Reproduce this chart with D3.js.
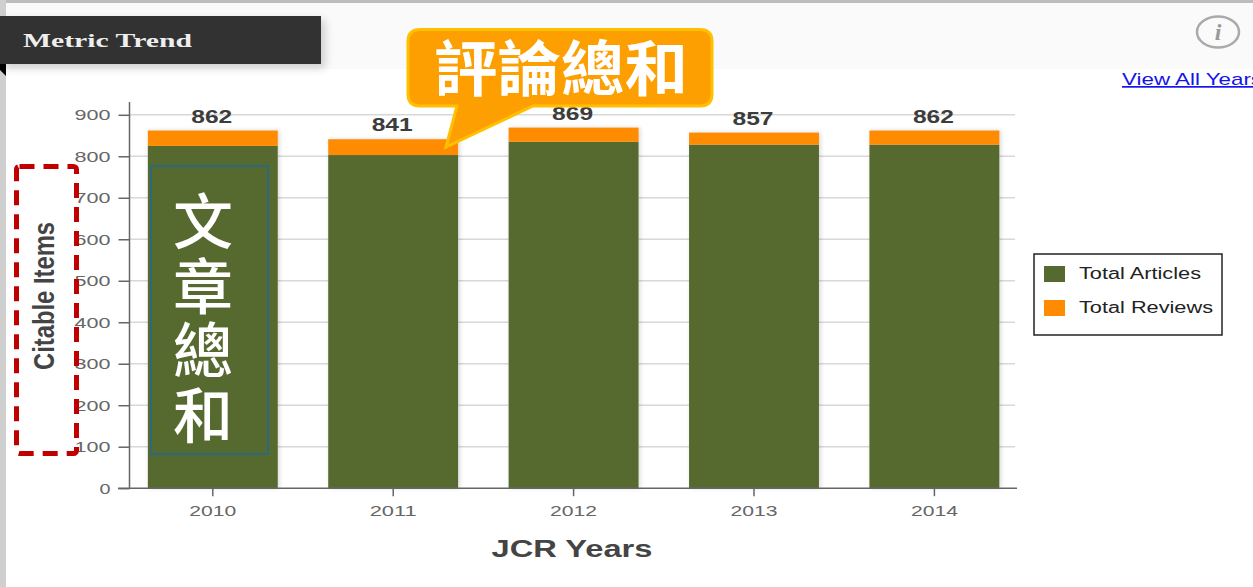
<!DOCTYPE html>
<html><head><meta charset="utf-8">
<script src="https://cdn.jsdelivr.net/npm/d3@7/dist/d3.min.js"></script>
<style>html,body{margin:0;padding:0;background:#fff;overflow:hidden}svg{display:block}</style>
</head><body><svg id="c" width="1253" height="587"></svg>
<script>
const years = ["2010","2011","2012","2013","2014"];
const articles = [825,803,835,828,828];
const reviews = [37,38,34,29,34];
const totals = [862,841,869,857,862];
const yTicks = [0,100,200,300,400,500,600,700,800,900];
const legendLabels = ["Total Articles","Total Reviews"];
const colors = ["#566a30","#ff8c00"];
const sideChars = ["文","章","總","和"];

const svg = d3.select("#c");
const defs = svg.append("defs");
const f1 = defs.append("filter").attr("id","sh").attr("x","-10%").attr("y","-10%").attr("width","120%").attr("height","120%");
f1.append("feDropShadow").attr("dx",1.5).attr("dy",0).attr("stdDeviation",2).attr("flood-color","#000").attr("flood-opacity",.16);
const f2 = defs.append("filter").attr("id","sh2").attr("x","-10%").attr("y","-20%").attr("width","120%").attr("height","150%");
f2.append("feDropShadow").attr("dx",4).attr("dy",4).attr("stdDeviation",4).attr("flood-color","#000").attr("flood-opacity",.18);

// page frame
svg.append("rect").attr("x",0).attr("y",0).attr("width",1253).attr("height",3).attr("fill","#bdbdbd");
svg.append("rect").attr("x",0).attr("y",0).attr("width",6).attr("height",587).attr("fill","#cfcfcf");
svg.append("rect").attr("x",6).attr("y",3).attr("width",1247).attr("height",66).attr("fill","#fafafa");

const x = d3.scaleBand().domain(years).range([122.6,1024.6]).paddingInner(0.28).paddingOuter(0.14);
const y = d3.scaleLinear().domain([0,900]).range([488.2,114.8]);

function fit(sel,len){return sel.attr("textLength",len).attr("lengthAdjust","spacingAndGlyphs");}

// gridlines
svg.append("g").selectAll("line").data(yTicks.slice(1)).join("line")
  .attr("x1",130).attr("x2",1015).attr("y1",d=>y(d)).attr("y2",d=>y(d))
  .attr("stroke","#d8d8d8").attr("stroke-width",1.5);

// bars
const bars = svg.append("g");
const rows = years.map((yr,i)=>({yr,a:articles[i],r:reviews[i],t:totals[i]}));
bars.selectAll("rect.s").data(rows).join("rect").attr("class","s")
  .attr("x",d=>x(d.yr)).attr("width",x.bandwidth()).attr("y",d=>y(d.a+d.r)).attr("height",d=>y(0)-y(d.a+d.r))
  .attr("fill","#ddd").attr("filter","url(#sh)");
bars.selectAll("rect.a").data(rows).join("rect").attr("class","a")
  .attr("x",d=>x(d.yr)).attr("width",x.bandwidth()).attr("y",d=>y(d.a)).attr("height",d=>y(0)-y(d.a)).attr("fill",colors[0]);
bars.selectAll("rect.r").data(rows).join("rect").attr("class","r")
  .attr("x",d=>x(d.yr)).attr("width",x.bandwidth()).attr("y",d=>y(d.a+d.r)).attr("height",d=>y(d.a)-y(d.a+d.r)).attr("fill",colors[1]);

// value labels
fit(svg.append("g").selectAll("text").data(rows).join("text")
  .attr("x",d=>x(d.yr)+x.bandwidth()/2-1).attr("y",d=>y(d.t)-8).attr("text-anchor","middle")
  .attr("font-family","Liberation Sans").attr("font-weight","bold").attr("font-size",18).attr("fill","#3c3c3c")
  .text(d=>d.t),41);

// axes
const axY = svg.append("g").attr("transform","translate(129.5,0)")
  .call(d3.axisLeft(y).tickValues(yTicks).tickSize(11).tickPadding(8).tickSizeOuter(0));
axY.select(".domain").attr("d","M0,102V488.2").attr("stroke","#666").attr("stroke-width",1.5);
axY.selectAll(".tick line").attr("stroke","#666").attr("stroke-width",1.5);
fit(axY.selectAll(".tick text").attr("font-family","Liberation Sans").attr("font-size",15).attr("fill","#666"),36);
axY.selectAll(".tick text").filter(d=>d===0).attr("textLength",11);

const axX = svg.append("g").attr("transform","translate(0,488.2)")
  .call(d3.axisBottom(x).tickSize(8).tickPadding(9).tickSizeOuter(0));
axX.select(".domain").attr("d","M118,0H1017").attr("stroke","#666").attr("stroke-width",1.5);
axX.selectAll(".tick line").attr("stroke","#666").attr("stroke-width",1.5);
fit(axX.selectAll(".tick text").attr("font-family","Liberation Sans").attr("font-size",15).attr("fill","#666"),47);

// axis titles
fit(svg.append("text").attr("x",572).attr("y",557).attr("text-anchor","middle")
  .attr("font-family","Liberation Sans").attr("font-weight","bold").attr("font-size",23).attr("fill","#444").text("JCR Years"),161);
fit(svg.append("text").attr("transform","translate(54,296) rotate(-90)").attr("text-anchor","middle")
  .attr("font-family","Liberation Sans").attr("font-weight","bold").attr("font-size",29).attr("fill","#444").text("Citable Items"),148);

// legend
svg.append("rect").attr("x",1034).attr("y",254).attr("width",188).attr("height",81)
  .attr("fill","#fff").attr("stroke","#222").attr("stroke-width",1.5);
const lg = svg.append("g").selectAll("g").data(legendLabels).join("g").attr("transform",(d,i)=>`translate(0,${i*34})`);
lg.append("rect").attr("x",1044).attr("y",266).attr("width",21).attr("height",16).attr("fill",(d,i)=>colors[i]);
lg.each(function(d,i){fit(d3.select(this).append("text").attr("x",1079).attr("y",279)
  .attr("font-family","Liberation Sans").attr("font-size",16).attr("fill","#222").text(d),i?134:122);});

// header
svg.append("path").attr("d","M0,64H6V76L0,70Z").attr("fill","#000");
svg.append("rect").attr("x",0).attr("y",16).attr("width",321).attr("height",48).attr("fill","#333").attr("filter","url(#sh2)");
fit(svg.append("text").attr("x",23).attr("y",47).attr("font-family","Liberation Serif").attr("font-weight","bold")
  .attr("font-size",19).attr("fill","#eee").text("Metric Trend"),169);
svg.append("ellipse").attr("cx",1218).attr("cy",32).attr("rx",21).attr("ry",15.5).attr("fill","none").attr("stroke","#aaa").attr("stroke-width",2.5);
svg.append("text").attr("x",1218).attr("y",40).attr("text-anchor","middle").attr("font-family","Liberation Serif")
  .attr("font-style","italic").attr("font-weight","bold").attr("font-size",24).attr("fill","#999").text("i");
fit(svg.append("text").attr("x",1122).attr("y",85).attr("font-family","Liberation Sans").attr("font-size",17)
  .attr("fill","#1414ee").attr("text-decoration","underline").text("View All Years"),140);

// annotations
svg.append("rect").attr("x",16.5).attr("y",166.5).attr("width",60).attr("height",287).attr("rx",3)
  .attr("fill","none").attr("stroke","#c00000").attr("stroke-width",5).attr("stroke-dasharray","15 9");
svg.append("rect").attr("x",151).attr("y",166).attr("width",117).attr("height",288)
  .attr("fill","none").attr("stroke","#1f6a94").attr("stroke-width",1.5);
svg.append("text").attr("font-family","Noto Sans CJK TC").attr("font-weight","500").attr("font-size",60).attr("fill","#fff")
  .attr("text-anchor","middle")
  .selectAll("tspan").data(sideChars).join("tspan")
  .attr("x",203).attr("y",(d,i)=>244+i*64.5).text(d=>d);
svg.append("path")
  .attr("d","M420,29.5H700Q712,29.5 712,41.5V94Q712,106 700,106H533L446,147L457,106H420Q408,106 408,94V41.5Q408,29.5 420,29.5Z")
  .attr("fill","#fd9f00").attr("stroke","#ffc000").attr("stroke-width",3);
fit(svg.append("text").attr("x",434).attr("y",91).attr("font-family","Noto Sans CJK TC").attr("font-weight","bold")
  .attr("font-size",60).attr("fill","#fff").text("評論總和"),254);
</script></body></html>
